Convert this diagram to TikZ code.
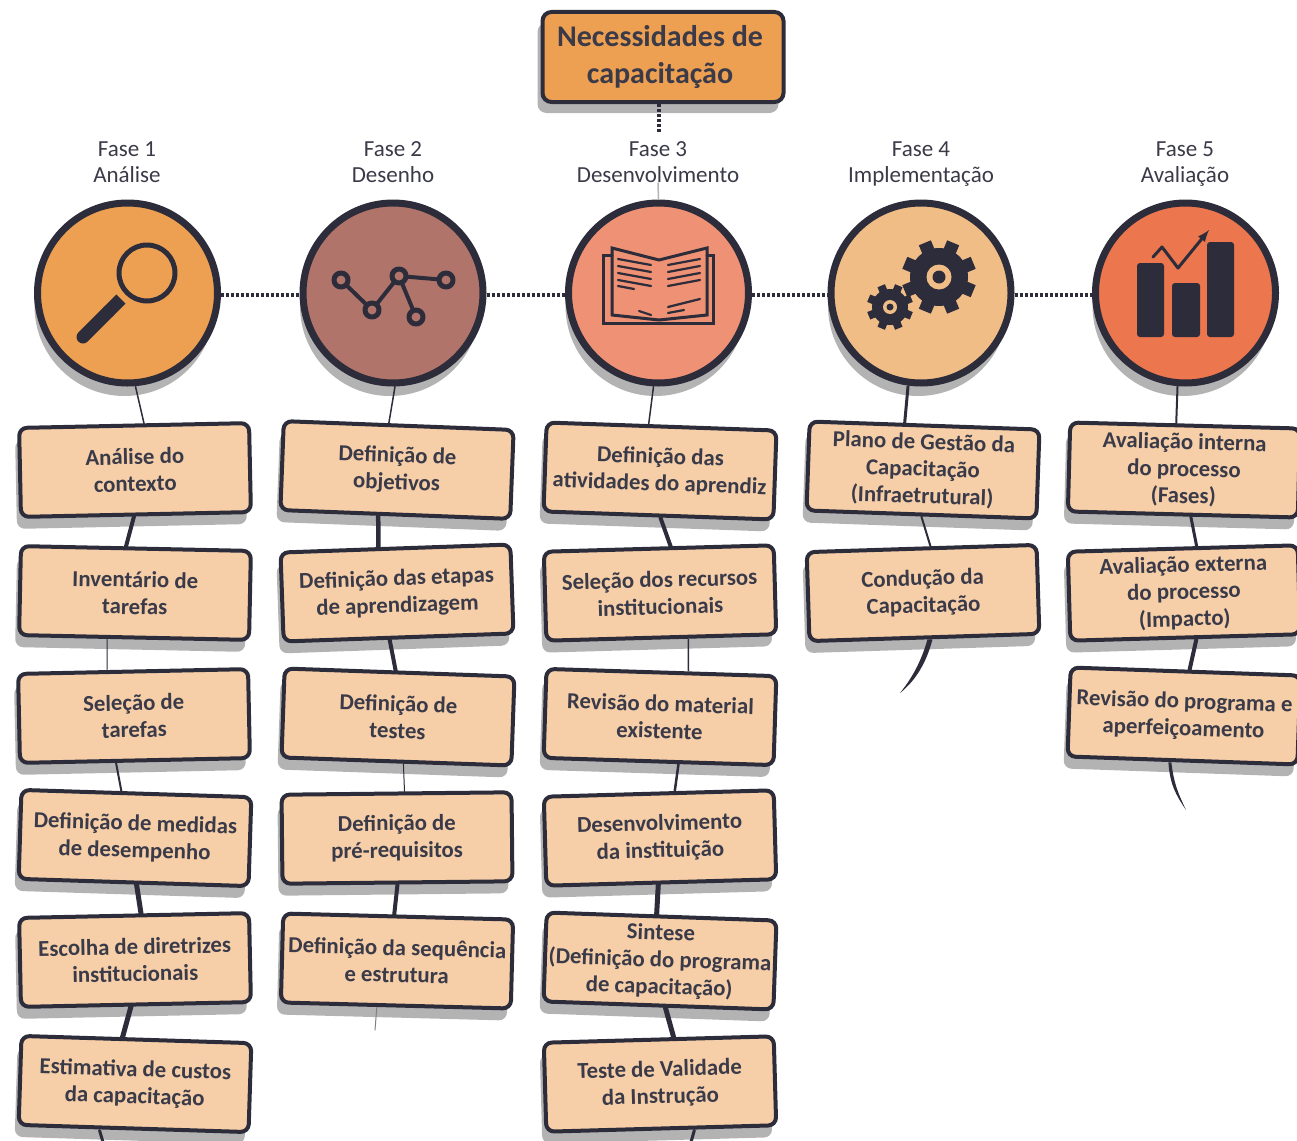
\documentclass[tikz,border=0pt]{standalone}
\usepackage{fontspec}
\setmainfont{Carlito}
\usetikzlibrary{calc}
\usetikzlibrary{shadows}
\tikzset{>=latex}
\definecolor{darkline}{HTML}{2C2C3A}
\definecolor{darktext}{HTML}{3A3A48}
\definecolor{shadowgray}{HTML}{B3B3B3}
\definecolor{boxfill}{HTML}{F6CFA9}
\definecolor{faseorange}{HTML}{EDA052}
\definecolor{fasebrown}{HTML}{B0746A}
\definecolor{fasesalmon}{HTML}{EE9175}
\definecolor{fasetan}{HTML}{F1BD87}
\definecolor{fasecoral}{HTML}{EC764D}
\tikzset{
    topbox/.style={draw=darkline,line width=4pt,fill=faseorange,rounded corners=9pt,
    minimum width=241pt,minimum height=90pt,inner sep=0pt,align=center,text=darktext,
    font=\fontsize{30}{37}\selectfont\bfseries,
    drop shadow={shadow xshift=-5pt,shadow yshift=-11pt,fill=shadowgray,opacity=1}},
    fasebox/.style={draw=darkline,line width=4pt,fill=boxfill,rounded corners=8pt,
    minimum width=230pt,minimum height=89pt,inner sep=0pt,align=center,text=darktext,
    font=\fontsize{22.8}{27}\selectfont\bfseries,
    drop shadow={shadow xshift=-4pt,shadow yshift=-12pt,fill=shadowgray,opacity=1}},
    fasecircle/.style={circle,draw=darkline,line width=7pt,minimum size=180pt,inner sep=0pt,
    drop shadow={shadow xshift=-3pt,shadow yshift=-13pt,fill=shadowgray,opacity=1}},
    faselabel/.style={align=center,text=darktext,inner sep=0pt,anchor=north,
    font=\fontsize{23}{26}\selectfont},
    dotline/.style={draw=darkline,line width=4pt,dash pattern=on 3pt off 2pt},
    link/.style={draw=darkline,line cap=round},
    icon/.style={draw=darkline,line cap=round,line join=round}
}
\begin{document}
\begin{tikzpicture}[x=1pt,y=-1pt]
    \useasboundingbox (0,0) rectangle (1297,1140);
    \clip (0,0) rectangle (1297,1140);

    \node [topbox] (need) at (663,57) {Necessidades de\kern6pt\\capacitação\kern6pt};

    \node [faselabel] (l1) at (127,141) {Fase 1\\Análise};
    \node [faselabel] (l2) at (393,141) {Fase 2\\Desenho};
    \node [faselabel] (l3) at (658,141) {Fase 3\\Desenvolvimento};
    \node [faselabel] (l4) at (921,142) {Fase 4\\Implementação};
    \node [faselabel] (l5) at (1185,142) {Fase 5\\Avaliação};

    \node [fasecircle,fill=faseorange] (c1) at (127.5,293) {};
    \node [fasecircle,fill=fasebrown] (c2) at (393,293) {};
    \node [fasecircle,fill=fasesalmon] (c3) at (658.5,293) {};
    \node [fasecircle,fill=fasetan] (c4) at (921,293) {};
    \node [fasecircle,fill=fasecoral] (c5) at (1185.5,293) {};

    \draw [dotline,shorten >=8pt] ([xshift=-4pt]need.south) -- ([xshift=1pt]l3.north);
    \draw [draw=shadowgray,line width=1.5pt] (l3.south) -- (c3.north);
    \draw [dotline] ([yshift=-2pt]c1.east) -- ([yshift=-2pt]c2.west);
    \draw [dotline] ([yshift=-2pt]c2.east) -- ([yshift=-2pt]c3.west);
    \draw [dotline] ([yshift=-2pt]c3.east) -- ([yshift=-2pt]c4.west);
    \draw [dotline] ([yshift=-2pt]c4.east) -- ([yshift=-2pt]c5.west);

    % coluna 1
    \node [fasebox,rotate=1.2] (a1) at (135,470) {Análise do\\contexto};
    \node [fasebox,rotate=-1.2] (a2) at (135,593) {Inventário de\\tarefas};
    \node [fasebox,rotate=1.2] (a3) at (134,716) {Seleção de\\tarefas};
    \node [fasebox,rotate=-1.8] (a4) at (135,838) {Definição de medidas\\de desempenho};
    \node [fasebox,rotate=1.2] (a5) at (135,960) {Escolha de diretrizes\\institucionais};
    \node [fasebox,rotate=-1.8] (a6) at (135,1084) {Estimativa de custos\\da capacitação};

    % coluna 2
    \node [fasebox,rotate=-2.2] (b1) at (397,470) {Definição de\\objetivos};
    \node [fasebox,rotate=2] (b2) at (397,593) {Definição das etapas\\de aprendizagem};
    \node [fasebox,rotate=-2] (b3) at (398,717) {Definição de\\testes};
    \node [fasebox,rotate=0.6] (b4) at (397,838) {Definição de\\pré-requisitos};
    \node [fasebox,rotate=-1.5] (b5) at (397,961) {Definição da sequência\\e estrutura};

    % coluna 3
    \node [fasebox,rotate=-2] (d1) at (660,471) {Definição das\\atividades do aprendiz};
    \node [fasebox,rotate=1.6] (d2) at (660,593) {Seleção dos recursos\\institucionais};
    \node [fasebox,rotate=-1.8] (d3) at (660,717) {Revisão do material\\existente};
    \node [fasebox,rotate=1.6] (d4) at (660,838) {Desenvolvimento\\da instituição};
    \node [fasebox,rotate=-2] (d5) at (660,961) {Sintese\\(Definição do programa\\de capacitação)};
    \node [fasebox,rotate=1.6] (d6) at (660,1084) {Teste de Validade\\da Instrução};

    % coluna 4
    \node [fasebox,rotate=-2] (e1) at (923,470) {Plano de Gestão da\\Capacitação\\(Infraetrutural)};
    \node [fasebox,rotate=1.8] (e2) at (923,593) {Condução da\\Capacitação};

    % coluna 5
    \node [fasebox,rotate=-1.5] (f1) at (1184,470) {Avaliação interna\\do processo\\(Fases)};
    \node [fasebox,rotate=1.6] (f2) at (1184,593) {Avaliação externa\\do processo\\(Impacto)};
    \node [fasebox,rotate=-2] (f3) at (1184,716) {Revisão do programa e\\aperfeiçoamento};

    \coordinate (a7) at (103,1142);
    \coordinate (b6) at (375,1030);
    \coordinate (d7) at (691,1142);
    \coordinate (e3) at (900,693);
    \coordinate (f4) at (1186,810);

    \draw [link,line width=1.5pt] ([xshift=8pt]c1.south) -- ([xshift=10pt]a1.north);
    \draw [link,line width=4pt] ([xshift=-2pt]a1.south) -- ([xshift=-10pt]a2.north);
    \draw [link,line width=1pt] ([xshift=-27pt]a2.south) -- ([xshift=-26pt]a3.north);
    \draw [link,line width=2pt] ([xshift=-19pt]a3.south) -- ([xshift=-15pt]a4.north);
    \draw [link,line width=5pt] ([xshift=3pt]a4.south) -- ([xshift=7pt]a5.north);
    \draw [link,line width=5pt] ([xshift=-5pt]a5.south) -- ([xshift=-14pt]a6.north);
    \draw [link,line width=3pt] ([xshift=-34pt]a6.south) -- (a7);

    \draw [link,line width=1.5pt] ([xshift=2pt]c2.south) -- ([xshift=-10pt]b1.north);
    \draw [link,line width=4.5pt] ([xshift=-17pt]b1.south) -- ([xshift=-17pt]b2.north);
    \draw [link,line width=4pt] ([xshift=-9pt]b2.south) -- ([xshift=-4pt]b3.north);
    \draw [link,line width=1pt] ([xshift=7pt]b3.south) -- ([xshift=8pt]b4.north);
    \draw [link,line width=4pt] (b4.south) -- ([xshift=-4pt]b5.north);
    \draw [link,line width=1pt,draw=darkline!60] ([xshift=-19pt]b5.south) -- (b6);

    \draw [link,line width=1.5pt] ([xshift=-5pt]c3.south) -- ([xshift=-13pt]d1.north);
    \draw [link,line width=4pt] ([xshift=2pt]d1.south) -- ([xshift=12pt]d2.north);
    \draw [link,line width=1.5pt] ([xshift=27pt]d2.south) -- ([xshift=27pt]d3.north);
    \draw [link,line width=2.5pt] ([xshift=20pt]d3.south) -- ([xshift=16pt]d4.north);
    \draw [link,line width=5pt] ([xshift=-3pt]d4.south) -- ([xshift=-5pt]d5.north);
    \draw [link,line width=5pt] ([xshift=7pt]d5.south) -- ([xshift=15pt]d6.north);
    \draw [link,line width=3pt] ([xshift=33pt]d6.south) -- (d7);

    \draw [link,line width=3pt] ([xshift=-13pt]c4.south) -- ([xshift=-20pt]e1.north);
    \draw [link,line width=2pt] ([xshift=0pt]e1.south) -- ([xshift=9pt]e2.north);
    \fill [darkline] ([xshift=3pt]e2.south) .. controls (921,662) and (912,678) .. (e3)
    .. controls (915,681) and (926,664) .. ([xshift=8pt]e2.south) -- cycle;

    \draw [link,line width=2pt] ([xshift=-8pt]c5.south) -- ([xshift=-9pt]f1.north);
    \draw [link,line width=3pt] ([xshift=8pt]f1.south) -- ([xshift=14pt]f2.north);
    \draw [link,line width=4pt] ([xshift=11pt]f2.south) -- ([xshift=4pt]f3.north);
    \fill [darkline] ([xshift=-14pt]f3.south) .. controls (1170,785) and (1176,795) .. (f4)
    .. controls (1179,795) and (1174,785) .. ([xshift=-11pt]f3.south) -- cycle;

    % lupa
    \draw [icon,line width=5pt] (147,273) circle (28);
    \draw [icon,line width=13pt,line cap=butt] (121,299) -- (108,312);
    \draw [icon,line width=13pt] (108,312) -- (83,337);

    % grafo
    \draw [icon,line width=4pt] (341,280) -- (372,310) -- (399,276) -- (446,280);
    \draw [icon,line width=4pt] (399,276) -- (416,317);
    \draw [icon,line width=5pt,fill=fasebrown] (341,280) circle (7);
    \draw [icon,line width=5pt,fill=fasebrown] (372,310) circle (7);
    \draw [icon,line width=5pt,fill=fasebrown] (399,276) circle (7);
    \draw [icon,line width=5pt,fill=fasebrown] (446,280) circle (7);
    \draw [icon,line width=5pt,fill=fasebrown] (416,317) circle (7);

    % livro
    \draw [icon,line width=3pt,line join=miter] (612,255) -- (603,255) -- (603,323) -- (713,323) -- (713,255) -- (707,255);
    \draw [icon,line width=3pt,line join=miter] (612,248) -- (659,260) -- (707,248) -- (707,315) -- (659,320) -- (612,315) -- cycle;
    \foreach \ya in {259,266,273,280} {
        \draw [icon,line width=2.2pt] (618,\ya) -- (651,\ya+6);
        \draw [icon,line width=2.2pt] (668,\ya+6) -- (700,\ya);
    }
    \draw [icon,line width=2.2pt] (618,286) -- (634,289);
    \draw [icon,line width=2.2pt] (668,307) -- (700,299);
    \draw [icon,line width=2.2pt] (668,313) -- (684,310);
    \draw [icon,line width=2.2pt] (639,311) -- (651,315);

    % engrenagens
    \foreach \ang in {0,45,...,315} {
        \draw [darkline,line width=13pt] (939,277) ++(\ang+22.5:24) -- ++(\ang+22.5:13);
        \draw [darkline,line width=8pt] (890,307) ++(\ang+22.5:15) -- ++(\ang+22.5:8);
    }
    \fill [darkline] (939,277) circle (29);
    \fill [fasetan] (939,277) circle (12.5);
    \fill [darkline] (939,277) circle (6.5);
    \fill [darkline] (890,307) circle (18);
    \fill [fasetan] (890,307) circle (7);
    \fill [darkline] (890,307) circle (3.5);

    % barras
    \fill [darkline,rounded corners=3pt] (1137,263) rectangle (1164,337);
    \fill [darkline,rounded corners=3pt] (1172,283) rectangle (1200,337);
    \fill [darkline,rounded corners=3pt] (1207,242) rectangle (1234,337);
    \draw [icon,line width=3pt,->] (1153,257) -- (1162,247) -- (1178,268) -- (1209,230);

  \end{tikzpicture}
\end{document}
